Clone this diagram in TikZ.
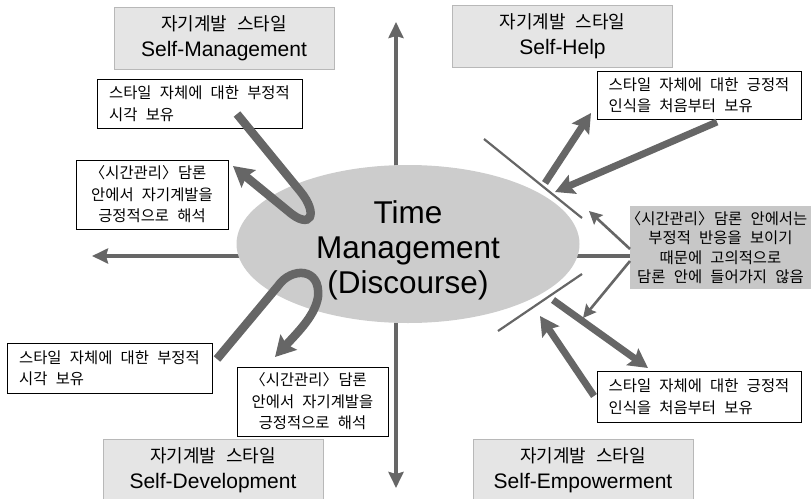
\documentclass[tikz,border=0pt]{standalone}
\usepackage{fontspec}
\setmainfont{Liberation Sans}
\newfontfamily\krfont[WordSpace=2.4]{Noto Sans CJK KR}
\usetikzlibrary{arrows.meta,shapes.geometric}
\pgfdeclarelayer{bg}
\pgfsetlayers{bg,main}
% half-width angle brackets
\newcommand{\lbr}{\makebox[0.5em][r]{〈}}
\newcommand{\rbr}{\makebox[0.5em][l]{〉}}

\begin{document}
\begin{tikzpicture}[x=1pt,y=-1pt,
  title/.style={draw=black!28,fill=black!10,line width=0.8pt,minimum width=220pt,minimum height=62pt,inner sep=0pt,align=center,font=\fontsize{21}{26}\selectfont},
  memo/.style={draw,line width=0.8pt,fill=white,inner sep=0pt,font=\krfont\fontsize{15.4}{21.5}\selectfont},
  axis/.style={line width=4.5pt,draw=black!60,-{Stealth[length=16pt,width=15pt,inset=2pt]}},
  bigarrow/.style={line width=7pt,draw=black!60,-{Stealth[length=19pt,width=20pt,inset=3pt]}},
  thinarrow/.style={line width=2.6pt,draw=black!60,-{Stealth[length=13pt,width=13pt,inset=2pt]}},
  uarrow/.style={line width=8.5pt,draw=black!60,-{Stealth[length=20pt,width=22pt,inset=3pt]}},
  bar/.style={line width=2.2pt,draw=black!60}]
\useasboundingbox (0,0) rectangle (811,498);

\node[ellipse,fill=black!20,minimum width=343pt,minimum height=158pt,inner sep=0pt] (tm) at (408,244) {};
\node[align=center,font=\fontsize{31.5}{35}\selectfont] (tmtext) at (408,250) {Time\\Management\\(Discourse)};

\node[title] (smg) at (224,38.5) {{\krfont\fontsize{18}{26}\selectfont 자기계발 스타일}\\Self-Management};
\node[title] (shp) at (562.5,36.5) {{\krfont\fontsize{18}{26}\selectfont 자기계발 스타일}\\Self-Help};
\node[title] (sdv) at (213,470) {{\krfont\fontsize{18}{26}\selectfont 자기계발 스타일}\\Self-Development};
\node[title] (sem) at (583,470) {{\krfont\fontsize{18}{26}\selectfont 자기계발 스타일}\\Self-Empowerment};

\node[memo,align=left,minimum width=205pt,minimum height=49pt] (tlneg) at (199.5,103.5) {스타일 자체에 대한 부정적\\시각 보유};
\node[memo,align=center,minimum width=152pt,minimum height=69pt] (tlpos) at (152,194.5) {\lbr 시간관리\rbr{} 담론\\안에서 자기계발을\\긍정적으로 해석};
\node[memo,align=left,minimum width=204pt,minimum height=48pt] (trpos) at (699,95) {스타일 자체에 대한 긍정적\\인식을 처음부터 보유};
\node[memo,draw=none,fill=black!22,align=center,minimum width=181pt,minimum height=83pt,font=\krfont\fontsize{15.4}{19.5}\selectfont] (gr) at (720.5,247.5) {\lbr 시간관리\rbr{} 담론 안에서는\\부정적 반응을 보이기\\때문에 고의적으로\\담론 안에 들어가지 않음};
\node[memo,align=left,minimum width=205pt,minimum height=50pt] (blneg) at (109.5,368) {스타일 자체에 대한 부정적\\시각 보유};
\node[memo,align=center,minimum width=151pt,minimum height=69pt] (blpos) at (312.5,401.5) {\lbr 시간관리\rbr{} 담론\\안에서 자기계발을\\긍정적으로 해석};
\node[memo,align=left,minimum width=204pt,minimum height=51pt] (brpos) at (699,396.5) {스타일 자체에 대한 긍정적\\인식을 처음부터 보유};

\coordinate (org) at (396,256);
\coordinate (ntip) at (396,22);
\coordinate (stip) at (396,488);
\coordinate (wtip) at (92,256);

\begin{pgfonlayer}{bg}
\foreach \to in {ntip, stip, wtip}
  \draw[axis] (org) -- (\to);
\draw[axis,-] (org) -- (gr.west |- org);
\end{pgfonlayer}

\coordinate (bar1a) at (484,139);
\coordinate (bar1b) at (582,218);
\coordinate (bar2a) at (498,331);
\coordinate (bar2b) at (582,274);
\draw[bar] (bar1a) -- (bar1b);
\draw[bar] (bar2a) -- (bar2b);

\coordinate (hlpout) at (545,183);
\coordinate (hlptip) at (591,113);
\coordinate (trfoot) at (717,122);
\coordinate (hlpin) at (555,192);
\coordinate (empout) at (553,300);
\coordinate (emptip) at (648,368);
\coordinate (brfoot) at (594,396);
\coordinate (empin) at (540,316);
\coordinate (grA) at (630,249);
\coordinate (thinA) at (589,211);
\coordinate (grB) at (630,261);
\coordinate (thinB) at (583,318);

\foreach \from/\to in {hlpout/hlptip, trfoot/hlpin, empout/emptip, brfoot/empin}
  \draw[bigarrow] (\from) -- (\to);
\foreach \from/\to in {grA/thinA, grB/thinB}
  \draw[thinarrow] (\from) -- (\to);

% U turns
\coordinate (tlfoot) at (237,114);
\coordinate (tltip) at (233,166);
\coordinate (blfoot) at (217,359);
\coordinate (bltip) at (275,357);
\draw[uarrow] (tlfoot) -- (300,191) .. controls (319,214) and (311,231) .. (288,211) -- (tltip);
\draw[uarrow] (blfoot) -- (278,286) .. controls (291,267) and (321,267) .. (318,297) .. controls (315,315) and (300,330) .. (bltip);

\end{tikzpicture}
\end{document}
